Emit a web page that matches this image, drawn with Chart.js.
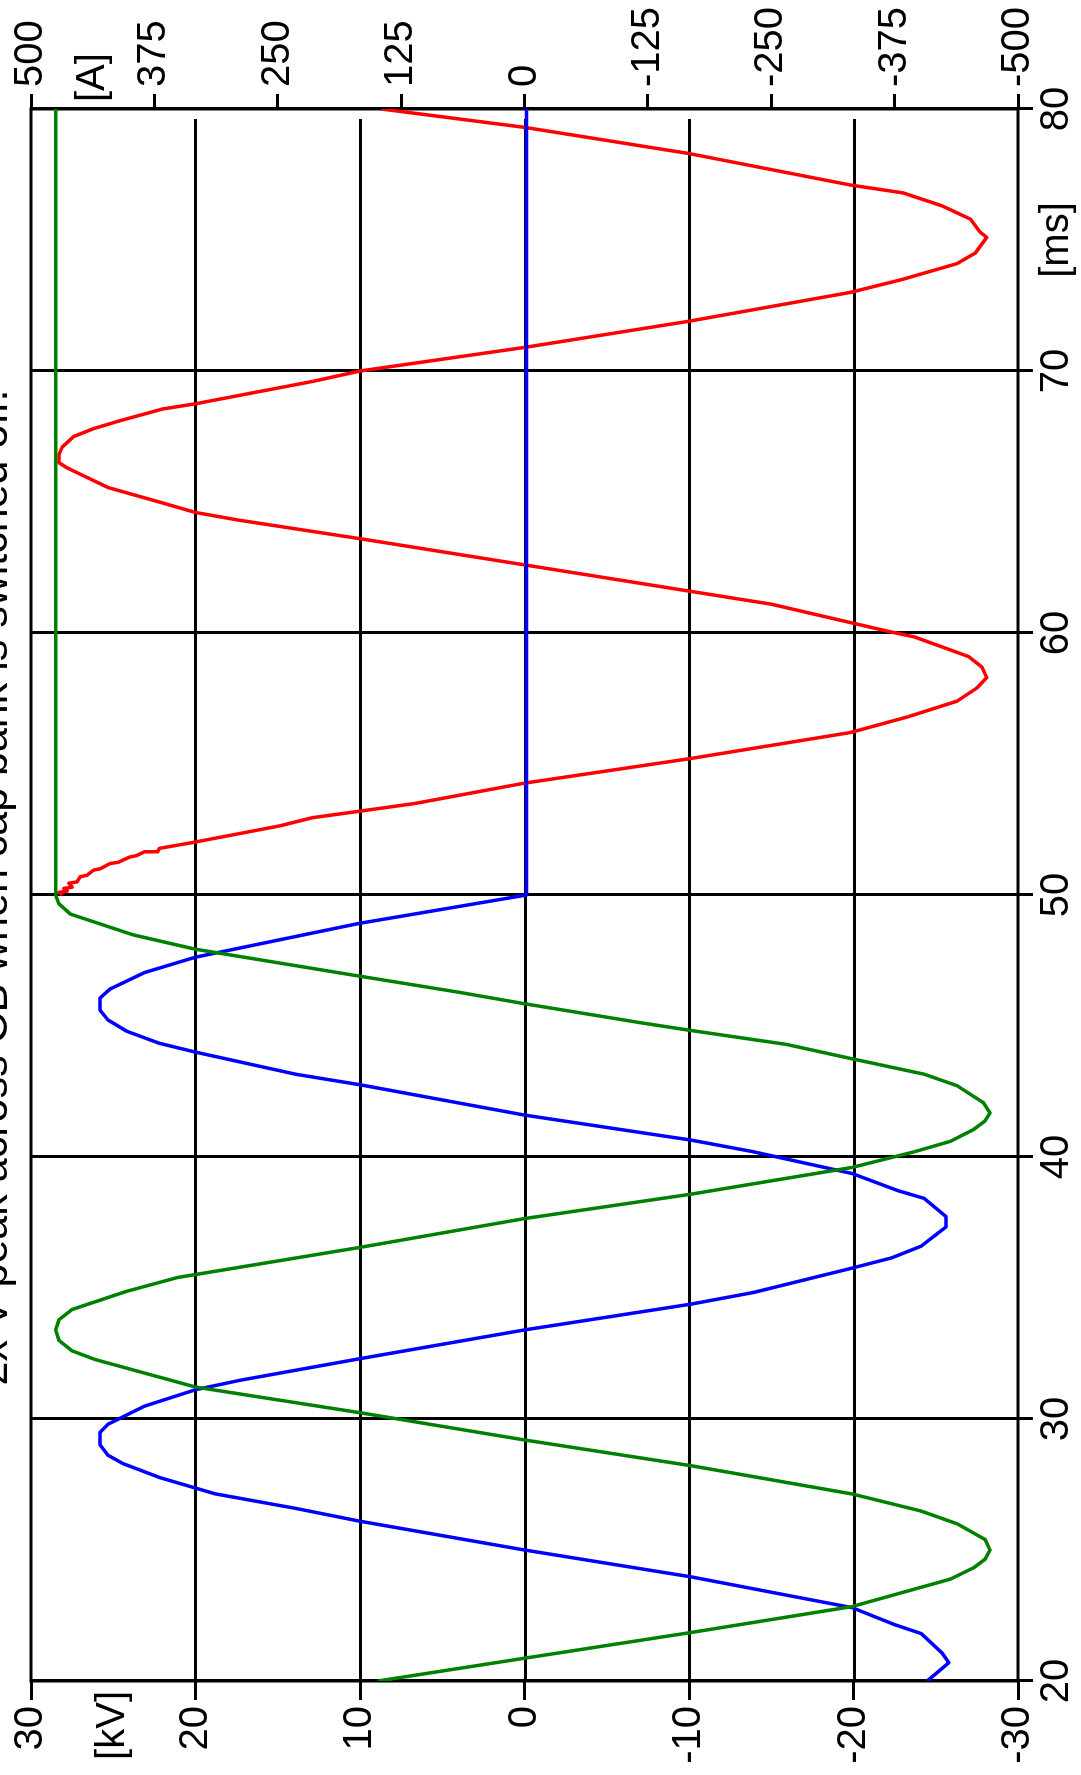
<!DOCTYPE html>
<html>
<head>
<meta charset="utf-8">
<title>Cap bank switching</title>
<script src="https://cdn.jsdelivr.net/npm/chart.js@4.4.0/dist/chart.umd.min.js"></script>
<style>
  html, body { margin: 0; padding: 0; background: #fff; overflow: hidden; }
  /* the scope trace is drawn landscape and turned a quarter turn to fit the page */
  #wrap {
    position: absolute;
    left: 0;
    top: 0;
    width: 1775px;
    height: 1081px;
    transform-origin: 0 0;
    transform: translate(0, 1775px) rotate(-90deg);
  }
  canvas { display: block; }
</style>
</head>
<body>
<div id="wrap"><canvas id="scope" width="1775" height="1081"></canvas></div>
<script>
// Capacitor voltage [kV]
const greenTime = [20.0, 20.87, 21.85, 22.84, 23.89, 24.32, 24.65, 25.0, 25.4, 26.0, 26.49, 27.14, 28.22, 29.2,
  30.24, 31.22, 32.27, 32.6, 33.0, 33.4, 33.79, 34.18, 34.87, 35.4, 36.55, 37.65, 38.58, 39.6, 40.2, 40.6,
  41.05, 41.38, 41.68, 42.07, 42.72, 43.16, 43.75, 44.3, 44.83, 45.13, 45.85, 46.3, 46.9, 47.93, 48.48,
  49.27, 49.66, 50.0, 80.0];
const greenKV = [8.9, 0, -10.1, -19.9, -25.9, -27.3, -28.0, -28.3, -28.0, -26.3, -24.1, -19.9, -10.1, 0,
  10.0, 20.0, 26.1, 27.5, 28.3, 28.5, 28.3, 27.5, 24.2, 21.1, 10.0, 0, -10.1, -19.9, -23.7, -25.9,
  -27.3, -28.0, -28.3, -27.9, -26.3, -24.3, -19.9, -15.9, -10.1, -7.0, 0, 4.1, 10.0, 20.0, 23.8,
  27.6, 28.3, 28.5, 28.5];

// Cap bank current [A]
const blueTime = [20.0, 20.7, 21.07, 21.81, 22.15, 22.8, 23.23, 23.98, 25.0, 26.1, 26.59, 27.14, 27.77,
  28.3, 28.62, 29.01, 29.49, 29.8, 30.49, 31.12, 31.48, 32.3, 33.4, 34.38, 34.83, 35.76, 36.15, 36.6,
  37.04, 37.33, 37.73, 38.42, 38.72, 39.37, 40.2, 40.65, 41.6, 42.76, 43.16, 44.0, 44.34, 44.8, 45.23,
  45.6, 46.07, 46.41, 47.04, 47.63, 48.92, 50.0, 80.0];
const blueAmp = [-408, -430, -423, -402, -375, -332, -272, -168, 0, 167, 232, 313, 370,
  407, 422, 430, 430, 422, 385, 333, 288, 167, 0, -168, -232, -332, -372, -402,
  -417, -427, -427, -405, -378, -332, -232, -168, 0, 167, 232, 333, 370, 403, 422,
  430, 430, 420, 385, 333, 167, -2, -2];

// Source side voltage after the breaker opens [kV]
const redTime = [50.0, 50.1, 50.15, 50.25, 50.3, 50.45, 50.5, 50.7, 50.75, 50.95, 51.0, 51.2, 51.25,
  51.45, 51.5, 51.65, 51.65, 51.78, 52.0, 52.6, 52.65, 52.95, 53.2, 53.5, 54.27, 55.2, 56.2, 56.8,
  57.4, 57.9, 58.3, 58.7, 59.1, 59.35, 59.85, 60.08, 60.4, 61.1, 61.6, 62.6, 63.6, 64.3, 64.6, 65.0,
  65.55, 66.3, 66.5, 66.8, 67.1, 67.5, 67.8, 68.1, 68.55, 68.75, 69.6, 70.0, 70.9, 71.9, 73.0, 73.5,
  74.1, 74.5, 75.1, 75.3, 75.8, 76.3, 76.8, 77.1, 78.3, 79.3, 80.0];
const redKV = [28.1, 28.3, 27.8, 28.0, 27.5, 27.7, 27.2, 27.0, 26.6, 26.2, 25.8, 25.2, 24.7,
  24.0, 23.6, 23.1, 22.3, 22.2, 20.2, 15.2, 14.8, 12.9, 10.0, 6.6, 0, -10.0, -19.8, -23.3,
  -26.3, -27.5, -28.1, -27.8, -27.0, -25.9, -23.7, -22.0, -19.8, -15.0, -10.0, 0, 10.0, 17.3, 20.0, 22.2,
  25.3, 27.8, 28.3, 28.3, 28.1, 27.4, 26.2, 24.6, 22.0, 20.0, 12.9, 10.0, 0, -10.0, -19.8, -23.0,
  -26.3, -27.4, -28.1, -27.7, -27.1, -25.4, -23.0, -19.8, -10.0, 0, 8.7];

// Axis ticks
const timeTicks = [20, 30, 40, 50, 60, 70, 80];
const kvTicks = [-30, -20, -10, 0, 10, 20, 30];
const ampTicks = [-500, -375, -250, -125, 0, 125, 250, 375, 500];

const chartTitle = '2x V peak across CB when cap bank is switched off.';

const FONT = '"Liberation Sans", Arial, Helvetica, sans-serif';
const LABEL_PAD = 0;

function toPoints(xs, ys) {
  return xs.map((x, i) => ({ x: x, y: ys[i] }));
}

// horizontal kV grid, frame, title and unit labels
const scopeFrame = {
  id: 'scopeFrame',
  beforeDatasetsDraw(chart) {
    const { ctx, chartArea: a, scales } = chart;
    ctx.save();
    ctx.strokeStyle = '#000';
    ctx.lineWidth = 3;
    kvTicks.forEach(v => {
      if (v <= -30 || v >= 30) return;
      const y = Math.round(scales.y.getPixelForValue(v)) + 0.5;
      ctx.beginPath();
      ctx.moveTo(a.left, y);
      ctx.lineTo(a.right - 10, y);
      ctx.stroke();
    });
    ctx.strokeRect(a.left, a.top, a.right - a.left, a.bottom - a.top);
    ctx.restore();
  },
  afterDraw(chart) {
    const { ctx, scales } = chart;
    ctx.save();
    ctx.fillStyle = '#000';

    // title sits mostly off the top edge
    ctx.font = '43px ' + FONT;
    ctx.textAlign = 'center';
    ctx.textBaseline = 'alphabetic';
    ctx.fillText(chartTitle, chart.width / 2, 7);

    ctx.font = '40px ' + FONT;
    ctx.textBaseline = 'middle';
    ctx.textAlign = 'right';
    ctx.fillText('[kV]', scales.y.right - 10, scales.y.getPixelForValue(25));

    ctx.textAlign = 'left';
    ctx.fillText('[A]', scales.y1.left + 7, scales.y1.getPixelForValue(437.5));

    ctx.textAlign = 'center';
    ctx.fillText('[ms]', scales.x.getPixelForValue(75), scales.x.top + 15 + LABEL_PAD + 24);
    ctx.restore();
  }
};

const tickFont = { family: FONT, size: 40 };

new Chart(document.getElementById('scope'), {
  type: 'line',
  data: {
    datasets: [
      {
        label: 'Ucap',
        data: toPoints(greenTime, greenKV),
        yAxisID: 'y',
        borderColor: '#008000',
        borderWidth: 3.5
      },
      {
        label: 'Icap',
        data: toPoints(blueTime, blueAmp),
        yAxisID: 'y1',
        borderColor: '#0000ff',
        borderWidth: 3.5
      },
      {
        label: 'Usrc',
        data: toPoints(redTime, redKV),
        yAxisID: 'y',
        borderColor: '#ff0000',
        borderWidth: 3.5
      }
    ]
  },
  options: {
    responsive: false,
    devicePixelRatio: 1,
    animation: false,
    layout: { padding: { top: 28, left: 0, right: 0, bottom: 0 } },
    elements: {
      point: { radius: 0 },
      line: { tension: 0, fill: false, borderJoinStyle: 'round' }
    },
    plugins: {
      legend: { display: false },
      tooltip: { enabled: false },
      title: { display: false }
    },
    scales: {
      x: {
        type: 'linear',
        position: 'bottom',
        min: 20,
        max: 80,
        afterBuildTicks: s => { s.ticks = timeTicks.map(v => ({ value: v })); },
        afterFit: s => { s.height = 63; },
        grid: { color: '#000', lineWidth: 3, tickLength: 15, tickColor: '#000' },
        border: { display: false },
        ticks: { color: '#000', font: tickFont, padding: LABEL_PAD, maxRotation: 0, autoSkip: false }
      },
      y: {
        type: 'linear',
        position: 'left',
        min: -30,
        max: 30,
        afterBuildTicks: s => { s.ticks = kvTicks.map(v => ({ value: v })); },
        afterFit: s => { s.width = 94; },
        grid: { drawOnChartArea: false, color: '#000', lineWidth: 3, tickLength: 19 },
        border: { display: false },
        ticks: { color: '#000', font: tickFont, padding: 6, autoSkip: false }
      },
      y1: {
        type: 'linear',
        position: 'right',
        min: -500,
        max: 500,
        afterBuildTicks: s => { s.ticks = ampTicks.map(v => ({ value: v })); },
        afterFit: s => { s.width = 109; },
        grid: { drawOnChartArea: false, color: '#000', lineWidth: 3, tickLength: 15 },
        border: { display: false },
        ticks: { color: '#000', font: tickFont, padding: 7, autoSkip: false }
      }
    }
  },
  plugins: [scopeFrame]
});
</script>
</body>
</html>
